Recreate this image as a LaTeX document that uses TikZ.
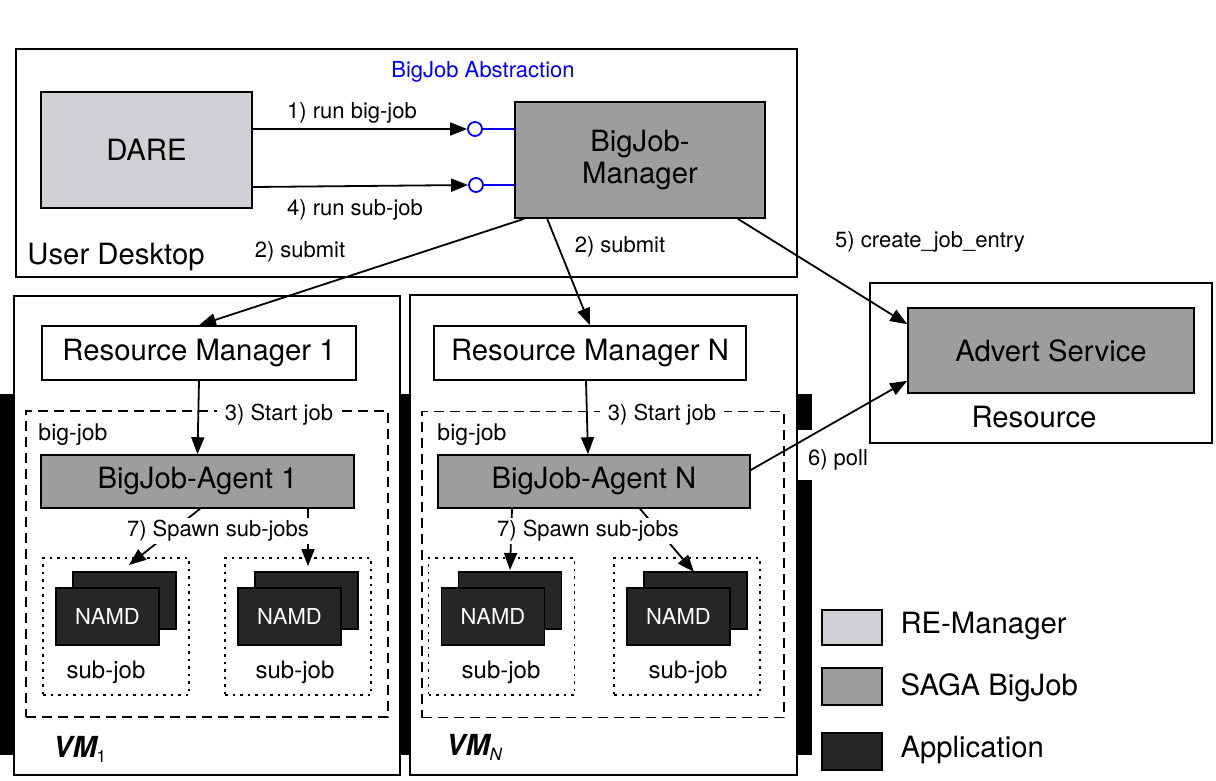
\documentclass[tikz,border=0pt]{standalone}
\usepackage{fontspec}
\setmainfont{TeX Gyre Heros}
\usetikzlibrary{arrows.meta,calc}
\definecolor{relight}{HTML}{D1D1D5}
\definecolor{bjgray}{HTML}{9D9DA0}
\definecolor{appdark}{HTML}{262626}
\definecolor{absblue}{HTML}{0000FF}
\begin{document}
\begin{tikzpicture}[x=1pt,y=-1pt,
 bx/.style={draw, line width=1.6pt, inner sep=0pt},
 bigtxt/.style={font=\fontsize{29.3}{32}\selectfont},
 smtxt/.style={font=\fontsize{22}{26}\selectfont},
 arr/.style={line width=1.8pt, -{Triangle[length=17pt,width=13pt]}},
 lolli/.style={circle, draw=absblue, line width=1.8pt, fill=white, minimum size=14pt, inner sep=0pt},
 dashbox/.style={draw, line width=1.7pt, dash pattern=on 10pt off 6pt, inner sep=0pt},
 dotbox/.style={draw, line width=1.6pt, dash pattern=on 2.5pt off 5pt, inner sep=0pt},
 namd/.style={draw, line width=1.6pt, fill=appdark, minimum width=103pt, minimum height=57pt, inner sep=0pt, text=white, font=\fontsize{22}{26}\selectfont},
 whitelbl/.style={fill=white, inner xsep=8pt, inner ysep=3pt},
 vmlbl/.style={anchor=base west, inner sep=0pt, font=\fontsize{29}{32}\selectfont\bfseries\itshape},
]
\useasboundingbox (0,0) rectangle (1216,780);

% ---------- User desktop ----------
\node[bx, minimum width=781pt, minimum height=228pt] (desk) at (406.5,163) {};
\node[bigtxt] (desklbl) at (116,257) {User Desktop};
\node[smtxt, text=absblue] (abs) at (483,72) {BigJob Abstraction};
\node[bx, fill=relight, minimum width=211pt, minimum height=116pt, bigtxt] (dare) at (146.5,150) {DARE};
\node[bx, fill=bjgray, minimum width=250pt, minimum height=116pt, bigtxt, align=center] (bjm) at (640,160) {BigJob-\\Manager};

\node[lolli] (c1) at (475,129) {};
\node[lolli] (c4) at (476,185) {};
\draw[absblue, line width=1.8pt] (c1.east) -- (c1.east -| bjm.west);
\draw[absblue, line width=1.8pt] (c4.east) -- (c4.east -| bjm.west);
\draw[arr] (dare.east |- c1) -- (c1.west);
\draw[arr] ([yshift=-37pt]dare.east) -- (c4.west);
\node[smtxt] (l1) at (352,113) {1) run big-job};
\node[smtxt] (l4) at (355,210) {4) run sub-job};

% ---------- VMs ----------
\node[fill=black, minimum width=812pt, minimum height=361pt, inner sep=0pt] (bars) at (406,574.5) {};
\fill[white] (797,430) rectangle (814,480);
\node[bx, fill=white, minimum width=386pt, minimum height=479pt] (vm1) at (207,535.5) {};
\node[bx, fill=white, minimum width=387pt, minimum height=480pt] (vmN) at (603.5,535) {};

\node[bx, fill=white, minimum width=314pt, minimum height=54pt, bigtxt] (rm1) at (199,353) {Resource Manager 1};
\node[bx, fill=white, minimum width=312pt, minimum height=54pt, bigtxt] (rmN) at (590,353) {Resource Manager N};

\node[dashbox, minimum width=362pt, minimum height=306pt] (bj1) at (207,564) {};
\node[dashbox, minimum width=362pt, minimum height=306pt] (bjN) at (603,564.5) {};
\node[font=\fontsize{23}{26}\selectfont] (bjl1) at (73,435) {big-job};
\node[font=\fontsize{23}{26}\selectfont] (bjlN) at (472,435) {big-job};

\node[bx, fill=bjgray, minimum width=313pt, minimum height=53pt, bigtxt] (a1) at (197.5,481.5) {BigJob-Agent 1};
\node[bx, fill=bjgray, minimum width=312pt, minimum height=53pt, bigtxt] (aN) at (594,481.5) {BigJob-Agent N};

\node[smtxt, whitelbl] (st1) at (279,415) {3) Start job};
\node[smtxt, whitelbl] (stN) at (662,415) {3) Start job};
\draw[arr] (rm1.south) -- (a1.north);
\draw[arr] ([xshift=-4pt]rmN.south) -- ([xshift=-6pt]aN.north);

% sub-jobs
\foreach \n/\cx/\lx in {s11/116/106, s12/298/295, sN1/501.5/501, sN2/687/688}{
  \node[dotbox, minimum width=146pt, minimum height=137pt] (\n) at (\cx,626.5) {};
  \node[namd] (\n b) at (\cx+8.5,600.5) {};
  \node[namd] (\n f) at (\cx-8.5,616.5) {NAMD};
  \node[font=\fontsize{24}{27}\selectfont] (\n l) at (\lx,672) {sub-job};
}

\coordinate (t11) at (129,565);
\coordinate (t12) at (308,566);
\coordinate (tN1) at (510,570);
\coordinate (tN2) at (694,572);
\draw[arr] ([xshift=2.5pt]a1.south) -- (t11);
\draw[arr] ([xshift=110.5pt]a1.south) -- (t12);
\draw[arr] ([xshift=-82pt]aN.south) -- (tN1);
\draw[arr] ([xshift=46pt]aN.south) -- (tN2);
\node[smtxt, fill=white, inner sep=2pt] (sp1) at (218,531) {7) Spawn sub-jobs};
\node[smtxt, fill=white, inner sep=2pt] (spN) at (588,531) {7) Spawn sub-jobs};

\node[vmlbl] (vm1l) at (53,757) {VM\raisebox{-5pt}{\fontsize{17}{17}\selectfont\mdseries\upshape 1}};
\node[vmlbl] (vmNl) at (446,755) {VM\raisebox{-5pt}{\fontsize{17}{17}\selectfont\mdseries N}};

% ---------- Resource ----------
\node[bx, minimum width=342pt, minimum height=160pt] (res) at (1041,363) {};
\node[bigtxt] (resl) at (1034,417) {Resource};
\node[bx, fill=bjgray, minimum width=286pt, minimum height=85pt, bigtxt] (adv) at (1051,350.5) {Advert Service};

% ---------- top-level connectors ----------
\node[smtxt] (sub1) at (300,252) {2) submit};
\node[smtxt] (sub2) at (620,247) {2) submit};
\node[smtxt] (cje) at (930,242) {5) create\_job\_entry};
\node[smtxt] (poll) at (838,460) {6) poll};
\draw[arr] ([xshift=10pt]bjm.south west) -- (rm1.north);
\draw[arr] ([xshift=33pt]bjm.south west) -- (rmN.north);
\draw[arr] ([xshift=-28pt]bjm.south east) -- ([yshift=-17pt]adv.north west);
\draw[arr] ([yshift=11.5pt]aN.east) -- ([yshift=13pt]adv.south west);

% ---------- legend ----------
\node[bx, fill=relight, minimum width=60pt, minimum height=35pt] (lg1) at (852,627.5) {};
\node[bx, fill=bjgray, minimum width=60pt, minimum height=37pt] (lg2) at (852,686.5) {};
\node[bx, fill=appdark, minimum width=60pt, minimum height=37pt] (lg3) at (852,751.5) {};
\node[bigtxt, anchor=west] (lg1l) at (897,626) {RE-Manager};
\node[bigtxt, anchor=west] (lg2l) at (897,688) {SAGA BigJob};
\node[bigtxt, anchor=west] (lg3l) at (897,750) {Application};
\end{tikzpicture}
\end{document}
